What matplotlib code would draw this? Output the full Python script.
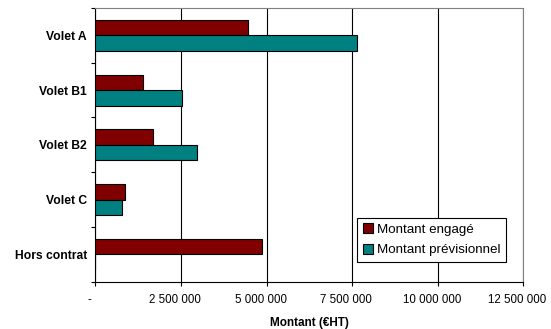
import matplotlib.pyplot as plt
from matplotlib.ticker import FuncFormatter
from matplotlib.transforms import ScaledTranslation

# Montants par volet (€ HT)
volets = ['Volet A', 'Volet B1', 'Volet B2', 'Volet C', 'Hors contrat']
engage = [4450000, 1400000, 1690000, 870000, 4860000]
previsionnel = [7630000, 2520000, 2960000, 770000, 0]
xticks = [0, 2500000, 5000000, 7500000, 10000000, 12500000]

plt.rcParams['font.family'] = ['Liberation Sans', 'DejaVu Sans']

fig = plt.figure(figsize=(5.51, 3.29), dpi=100)
ax = fig.add_axes([0.173, 0.1438, 0.777, 0.832])

h = 0.283
pos = list(range(len(volets)))
ax.barh([p - h / 2 for p in pos], engage, height=h, color='#800000',
        edgecolor='black', linewidth=0.8, label='Montant engagé', zorder=3)
ax.barh([p + h / 2 for p in pos], previsionnel, height=h, color='#008080',
        edgecolor='black', linewidth=0.8, label='Montant prévisionnel', zorder=3)

ax.set_xlim(0, 12500000)
ax.set_ylim(len(volets) - 0.5, -0.5)

# graduations y aux limites, libellés au centre
ax.set_yticks([p - 0.5 for p in range(len(volets) + 1)])
ax.set_yticklabels([])
ax.set_yticks(pos, minor=True)
ax.set_yticklabels(volets, minor=True, fontsize=8.7, fontweight='bold')
ax.tick_params(axis='y', which='major', length=3, width=0.8, direction='out')
ax.tick_params(axis='y', which='minor', length=0, pad=6)

ax.set_xticks(xticks)
ax.xaxis.set_major_formatter(FuncFormatter(
    lambda v, p: '-' if v == 0 else f'{int(v):,}'.replace(',', ' ')))
ax.tick_params(axis='x', length=3, width=0.8, labelsize=8.3, pad=6)
# libellés x légèrement décalés vers la gauche
shift = ScaledTranslation(-6 / 100, 0, fig.dpi_scale_trans)
for lab in ax.get_xticklabels():
    lab.set_transform(lab.get_transform() + shift)

ax.grid(axis='x', color='black', linewidth=0.8, zorder=0)
ax.set_axisbelow(True)
for s in ['top', 'right']:
    ax.spines[s].set_color('#808080')
for s in ['left', 'bottom']:
    ax.spines[s].set_color('black')

ax.set_xlabel('Montant (€HT)', fontsize=8.5, fontweight='bold', labelpad=8)

leg = ax.legend(loc='lower left', bbox_to_anchor=(0.612, 0.073), borderaxespad=0,
                fontsize=9.6, fancybox=False, framealpha=1, edgecolor='black',
                handlelength=0.75, handleheight=0.75, handletextpad=0.3,
                borderpad=0.4, labelspacing=0.6)
leg.get_frame().set_linewidth(0.8)

fig.savefig('out.png', dpi=100)
